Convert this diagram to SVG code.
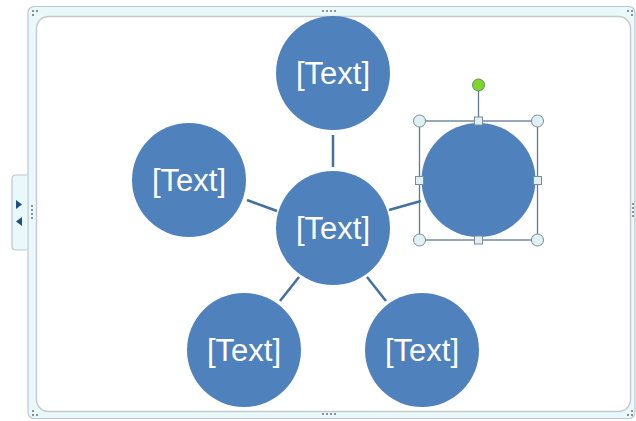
<svg xmlns="http://www.w3.org/2000/svg" width="636" height="421" viewBox="0 0 636 421">
<style>
.node{fill:#4F81BD}
.lbl{font-family:"Liberation Sans",Arial,sans-serif;font-size:31px;fill:#FFFFFF;text-anchor:middle}
.conn line{stroke:#44709E;stroke-width:2.5}
.dot{fill:#8A9299}
.h{fill:#DDF1F6;stroke:#7F8C96;stroke-width:1}
</style>
<rect width="636" height="421" fill="#FFFFFF"/>
<g id="frame">
<rect x="28" y="6.5" width="607" height="412" rx="6" fill="#E8F8FB" stroke="#BCC7CD" stroke-width="1.2"/>
<rect x="36.5" y="16.5" width="594" height="395" rx="12" fill="#FFFFFF" stroke="#C6C9CC" stroke-width="1.4"/>
<path d="M27 175 H16 Q12 175 12 179 V246 Q12 250 16 250 H27" fill="#E8F8FB" stroke="#BCC7CD" stroke-width="1.2"/>
<polygon points="16,200 22,204.5 16,209" fill="#1F4E86"/>
<polygon points="22,217 16,221.5 22,226" fill="#1F4E86"/>
<g class="dot">
<rect x="322" y="10" width="2" height="2"/><rect x="326" y="10" width="2" height="2"/><rect x="330" y="10" width="2" height="2"/><rect x="334" y="10" width="2" height="2"/>
<rect x="322" y="413" width="2" height="2"/><rect x="326" y="413" width="2" height="2"/><rect x="330" y="413" width="2" height="2"/><rect x="334" y="413" width="2" height="2"/>
<rect x="31" y="205" width="2" height="2"/><rect x="31" y="209" width="2" height="2"/><rect x="31" y="213" width="2" height="2"/><rect x="31" y="217" width="2" height="2"/>
<rect x="632" y="203" width="2" height="2"/><rect x="632" y="207" width="2" height="2"/><rect x="632" y="211" width="2" height="2"/><rect x="632" y="215" width="2" height="2"/>
<rect x="32" y="10" width="2" height="2"/><rect x="36" y="10" width="2" height="2"/><rect x="32" y="14" width="2" height="2"/>
<rect x="627" y="10" width="2" height="2"/><rect x="631" y="10" width="2" height="2"/><rect x="631" y="14" width="2" height="2"/>
<rect x="32" y="410" width="2" height="2"/><rect x="32" y="414" width="2" height="2"/><rect x="36" y="414" width="2" height="2"/>
<rect x="631" y="410" width="2" height="2"/><rect x="627" y="414" width="2" height="2"/><rect x="631" y="414" width="2" height="2"/>
</g>
</g>
<g id="connectors" class="conn">
<line x1="333" y1="135" x2="333" y2="167"/>
<line x1="247" y1="200" x2="277" y2="211"/>
<line x1="389" y1="210" x2="421" y2="201"/>
<line x1="280" y1="301" x2="299" y2="277"/>
<line x1="367" y1="277" x2="386" y2="301"/>
</g>
<g id="node-top"><circle class="node" cx="333" cy="73" r="57"/><text class="lbl" x="333" y="84">[Text]</text></g>
<g id="node-left"><circle class="node" cx="189" cy="180" r="57"/><text class="lbl" x="189" y="191">[Text]</text></g>
<g id="node-center"><circle class="node" cx="333" cy="228" r="57"/><text class="lbl" x="333" y="239">[Text]</text></g>
<g id="node-bottom-left"><circle class="node" cx="244" cy="350" r="57"/><text class="lbl" x="244" y="361">[Text]</text></g>
<g id="node-bottom-right"><circle class="node" cx="422" cy="350" r="57"/><text class="lbl" x="422" y="361">[Text]</text></g>
<g id="node-right">
<circle class="node" cx="478.5" cy="180" r="57"/>
<rect x="419.5" y="121" width="118" height="119" fill="none" stroke="#5E7A93" stroke-width="1.3"/>
<line x1="478.5" y1="91" x2="478.5" y2="121" stroke="#5E7A93" stroke-width="1.3"/>
<circle cx="478.5" cy="85" r="6" fill="#7FD62A" stroke="#6A8A6A" stroke-width="1"/>
<circle class="h" cx="419.5" cy="121" r="6"/><circle class="h" cx="537.5" cy="121" r="6"/>
<circle class="h" cx="419.5" cy="240" r="6"/><circle class="h" cx="537.5" cy="240" r="6"/>
<rect class="h" x="474.5" y="117" width="8" height="8"/><rect class="h" x="474.5" y="236" width="8" height="8"/>
<rect class="h" x="415.5" y="176.5" width="8" height="8"/><rect class="h" x="533.5" y="176.5" width="8" height="8"/>
</g>
</svg>
